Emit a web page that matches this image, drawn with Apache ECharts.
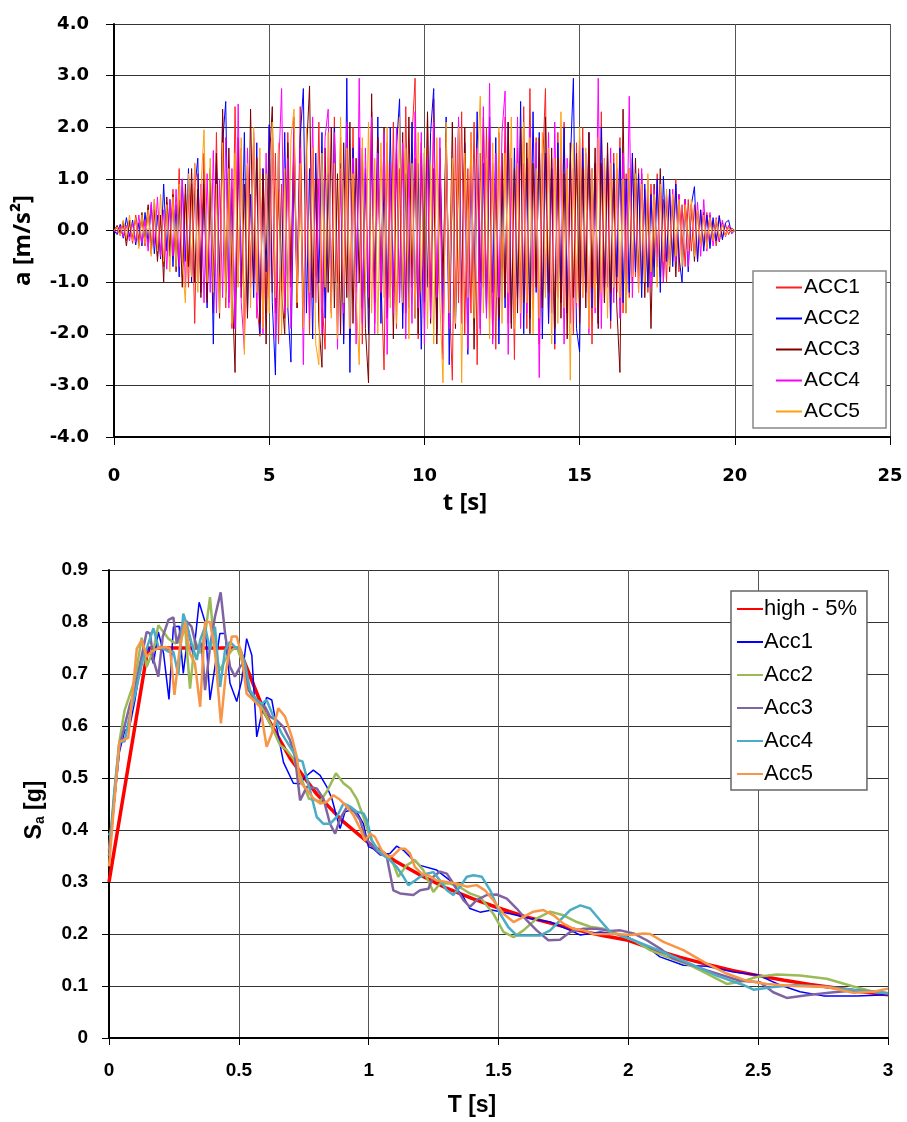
<!DOCTYPE html>
<html>
<head>
<meta charset="utf-8">
<script src="https://cdn.jsdelivr.net/npm/echarts@6/dist/echarts.min.js"></script>
<style>
html,body{margin:0;padding:0;background:#fff;}
#chart{width:907px;height:1122px;}
</style>
</head>
<body>
<div id="chart"></div>
<script>
// ---------- Top chart: accelerograms (sampled every 0.1 s, t = 0 ... 20 s) ----------
const timeStep = 0.1;
const accNames = ['ACC1', 'ACC2', 'ACC3', 'ACC4', 'ACC5'];
const acc1 = [
 0,0.05,-0.1,0.12,-0.2,0.15,-0.25,0.3,-0.18,0.22,
 -0.3,0.45,-0.35,0.6,-0.5,0.3,-0.7,0.55,-0.4,0.8,
 -0.6,1.2,-0.9,0.7,-1.1,0.9,-1.8,1.1,-0.8,1.5,
 -1.3,0.9,-1.6,1.9,-1.2,2.2,-1.5,0.8,-1.9,2.4,
 -1.0,1.6,-2.1,1.3,-0.9,1.8,-1.4,-2.05,1.2,-1.6,
 2.0,-1.2,1.5,-2.2,0.9,-1.7,1.9,-0.8,2.2,-1.5,
 2.4,-1.8,1.2,-2.0,1.6,-0.9,2.1,-1.3,-2.3,1.4,
 -1.6,2.2,-1.0,1.8,-2.1,1.3,-1.7,2.0,-1.2,1.6,
 -2.2,1.1,-1.5,2.3,-1.8,1.4,-0.9,-2.7,1.7,-1.3,
 2.1,-1.9,1.2,-1.6,2.4,-1.0,1.8,2.95,-2.1,1.5,
 -1.7,2.2,-1.3,2.55,-1.9,1.0,-2.4,1.6,-1.2,-2.9,
 1.8,-1.4,2.3,-2.0,1.2,-1.6,2.1,-2.6,1.5,-1.1,
 2.0,-1.7,1.3,-2.3,1.9,-1.2,2.2,-1.8,1.4,-2.5,
 1.6,-1.3,2.4,-1.9,2.75,-1.5,1.8,-2.2,1.1,2.75,
 -1.8,1.4,-2.3,1.9,-1.2,2.1,-1.6,1.3,-2.0,1.7,
 -1.5,2.0,-1.1,1.6,-2.2,1.3,-1.8,2.3,-1.4,1.2,
 -1.9,1.5,-1.2,1.8,-1.6,1.1,-1.3,1.4,-0.9,1.2,
 -1.0,0.8,-1.2,0.9,-0.7,1.1,-0.9,0.6,-1.0,0.8,
 -0.6,1.0,-0.8,0.5,-0.7,0.6,-0.4,0.5,-0.6,0.4,
 -0.3,0.35,-0.25,0.2,-0.3,0.3,-0.15,0.12,-0.08,0.05,
 0
];
const acc2 = [
 0,-0.08,0.12,-0.15,0.25,-0.12,0.2,-0.28,0.15,-0.3,
 0.35,-0.25,0.5,-0.45,0.3,-0.55,0.9,-0.4,0.6,-0.7,
 0.5,-0.9,1.0,-0.6,1.2,-1.0,0.8,1.4,-1.2,0.9,
 -1.5,1.1,-2.2,1.3,-0.9,1.7,2.5,-1.4,0.8,-1.9,
 1.5,-1.1,1.9,-1.6,0.7,-1.3,1.7,-2.0,1.2,-0.8,
 2.05,-1.4,-2.8,1.6,-1.0,1.9,-1.5,-2.55,1.3,-0.9,
 1.8,2.75,-1.6,1.2,-2.1,1.5,-1.0,1.9,-1.7,1.1,
 -1.4,2.0,-1.8,1.3,-2.2,2.95,-2.75,1.6,-1.1,1.8,
 -1.5,1.2,-2.0,1.7,-1.3,2.2,-1.8,1.0,-1.6,2.0,
 -1.2,1.6,2.55,-1.9,1.1,-1.5,2.1,-1.7,1.3,-2.3,
 1.5,-1.1,1.9,2.75,-2.0,1.4,-1.6,2.2,-2.6,1.2,
 -1.8,2.1,-1.3,1.7,-2.4,1.5,-1.1,2.3,-1.9,1.3,
 -1.6,2.2,-1.2,1.8,-2.2,1.0,-1.5,2.1,-1.8,1.6,
 -1.3,2.5,-2.0,1.4,-1.7,2.3,-1.2,1.9,-2.1,1.5,
 -1.8,1.2,-2.2,1.7,-1.4,2.0,-1.6,1.3,2.95,-1.9,
 -2.35,1.6,-1.2,1.9,-1.5,1.3,-1.8,2.0,-1.1,1.5,
 -1.75,1.3,-0.9,1.6,-1.4,1.0,-1.2,1.5,-0.8,1.1,
 -1.3,0.9,-1.1,0.7,-0.9,1.0,-1.2,1.05,-0.6,0.8,
 -0.7,0.9,-0.5,-1.0,0.6,-0.8,0.5,0.85,-0.6,0.4,
 -0.4,0.3,-0.35,0.25,-0.2,0.28,-0.18,0.15,0.2,-0.06,
 0
];
const acc3 = [
 0,0.1,-0.05,0.18,-0.3,0.2,-0.15,0.25,-0.3,0.35,
 -0.2,0.5,-0.45,0.4,-0.6,0.3,-1.0,0.65,-0.5,0.7,
 -0.8,0.6,-1.1,0.9,-0.7,1.2,-1.0,0.8,-1.3,1.0,
 -1.4,1.2,-0.9,1.5,-1.7,2.35,-1.2,1.6,-1.0,-2.75,
 1.8,-1.3,0.9,-1.7,2.35,-1.0,1.4,-1.8,1.1,-2.2,
 1.3,2.4,-1.6,0.8,-1.2,-2.0,1.7,-1.1,1.9,-1.5,
 1.2,-1.9,1.5,2.8,-1.3,1.0,-1.8,-2.65,1.6,-1.2,
 2.0,-1.5,1.1,-2.0,1.7,-1.3,2.1,-1.8,1.4,-1.0,
 1.6,-1.9,-2.95,2.65,-1.4,1.8,-1.2,2.0,-1.7,1.3,
 -2.1,1.5,-1.3,1.9,-1.6,2.2,-1.1,1.4,-2.0,1.7,
 -1.4,2.3,-1.8,1.2,-2.2,1.6,-1.0,1.9,-1.5,2.1,
 -1.9,1.3,-1.6,2.0,-1.2,1.7,-2.3,1.4,-1.0,2.2,
 -1.5,1.8,-2.1,1.1,-1.7,1.5,-1.3,2.1,-1.9,1.2,
 -1.6,2.0,-1.4,1.7,-2.0,1.3,-1.1,1.8,-1.5,2.2,
 -1.2,1.6,-1.9,1.4,-1.7,1.1,-2.1,1.7,-1.3,1.5,
 -1.8,1.2,-1.5,1.9,-1.1,1.6,-1.9,1.3,-1.4,1.7,
 -1.2,1.0,-1.5,-2.75,2.35,-1.6,1.2,-1.0,1.4,-0.9,
 1.1,-1.3,0.8,-1.9,0.9,-0.7,1.2,-1.0,0.7,-0.8,
 0.6,-0.9,0.7,-0.5,0.6,-0.4,0.5,-0.6,0.4,-0.3,
 0.35,-0.25,0.3,-0.2,0.18,-0.22,0.15,-0.1,0.08,-0.04,
 0
];
const acc4 = [
 0,-0.05,0.08,-0.12,0.1,-0.2,0.15,-0.22,0.3,-0.25,
 0.2,-0.4,0.55,-0.3,0.65,-0.5,0.4,-0.75,0.6,-0.5,
 0.8,-0.7,1.0,-1.1,0.7,-0.9,1.3,-1.0,0.9,-1.4,
 1.1,-1.2,1.55,-1.6,1.0,-1.3,1.8,-1.5,1.2,-1.9,
 2.45,-1.4,-2.3,1.6,-1.1,1.9,-1.7,1.2,-2.0,1.5,
 -1.3,1.8,-2.1,1.1,2.75,-1.6,1.4,-1.9,2.0,-1.2,
 1.6,-2.6,1.3,-1.7,2.2,-1.4,1.0,-2.0,1.8,2.35,
 -1.5,1.9,-2.3,1.2,-1.6,2.1,-1.9,1.4,-2.2,2.95,
 -1.8,1.6,-1.3,2.2,-2.0,1.5,-1.2,1.9,-2.4,1.3,
 -1.6,2.0,-1.4,1.7,-2.1,1.3,-1.8,2.3,-1.5,1.9,
 -2.2,1.4,-1.7,2.1,-1.3,1.8,-2.5,1.6,-1.9,1.2,
 -1.5,2.2,-1.8,1.3,-2.3,1.9,-1.4,1.6,-2.0,2.4,
 -1.7,2.85,-2.2,1.5,-1.3,1.9,2.7,-2.4,1.4,-1.6,
 2.2,-1.9,1.3,-1.6,2.0,-1.4,1.7,-2.85,1.5,-1.2,
 1.9,-1.6,2.1,-1.3,1.7,-2.2,1.4,-1.8,1.2,-1.5,
 1.8,-1.3,1.5,-2.0,1.2,-1.6,2.95,-1.9,1.4,-1.1,
 1.6,-1.4,1.2,-1.7,1.5,-1.0,2.6,-1.3,0.9,-1.2,
 1.2,-0.9,1.0,-1.1,0.8,-0.7,0.9,-1.0,0.7,-0.6,
 0.8,-0.6,0.7,-0.5,0.6,-0.7,0.5,-0.4,0.55,-0.5,
 0.6,-0.4,0.35,-0.3,0.25,-0.2,0.2,-0.12,0.1,-0.05,
 0
];
const acc5 = [
 0,0.07,-0.1,0.2,-0.15,0.3,-0.2,0.25,-0.35,0.3,
 -0.25,0.4,-0.5,0.6,-0.4,0.7,-0.6,0.5,-0.8,0.65,
 -0.7,0.9,-0.6,-1.4,1.1,-0.9,1.3,-1.2,0.8,1.95,
 -1.0,1.4,-1.2,0.9,-1.6,1.7,-1.3,1.2,-1.8,1.5,
 -1.1,1.8,-2.4,1.3,-1.5,2.0,-1.2,1.6,-1.9,1.1,
 -1.6,2.1,-1.3,1.7,-2.0,1.2,-1.5,1.8,2.35,-1.4,
 1.3,-1.9,2.0,-1.2,1.6,-2.2,-2.6,1.5,-1.1,1.9,
 -1.7,1.3,-2.1,2.2,-1.4,1.6,-1.9,1.1,-1.3,-2.6,
 1.8,-1.2,2.1,-1.6,1.4,-2.0,1.7,-1.3,2.0,-1.5,
 1.2,-1.8,2.2,-1.4,1.6,-2.1,1.3,-1.7,1.9,-1.2,
 1.6,-1.9,1.3,-2.2,1.8,-1.4,-2.95,2.1,-1.6,1.4,
 -1.8,2.0,-2.95,1.5,-1.3,1.9,-1.7,1.2,2.6,-1.6,
 1.4,-2.1,1.7,-1.3,2.0,-1.8,1.5,-1.2,2.2,-1.9,
 1.3,-1.6,2.1,-1.4,1.8,-2.0,1.2,-1.7,1.9,-1.3,
 1.6,-2.2,1.4,-1.8,2.3,-1.5,1.2,-2.9,1.7,-1.4,
 2.0,-1.3,1.6,-1.9,1.2,-1.5,1.8,-1.2,1.4,-1.7,
 1.3,-1.1,1.5,-1.3,1.0,-1.6,1.2,-0.9,1.1,-1.2,
 0.9,-1.0,1.1,-0.8,0.7,-1.1,0.9,-0.6,0.8,-0.7,
 0.7,-0.5,0.6,-0.7,0.5,-0.4,0.6,-0.5,0.4,-0.3,
 0.3,-0.35,0.25,-0.2,0.22,-0.15,0.12,-0.1,0.06,-0.03,
 0
];
const accColors = ['#ff2020', '#0000ff', '#800000', '#ff00ff', '#ffa010'];
const accTicksY = [-4, -3, -2, -1, 0, 1, 2, 3, 4];

// ---------- Bottom chart: response spectra [T (s), Sa (g)] ----------
const spectrumNames = ['high - 5%', 'Acc1', 'Acc2', 'Acc3', 'Acc4', 'Acc5'];
const targetSpectrum = [
 [0,0.3],[0.15,0.75],[0.5,0.75],[0.6,0.625],[0.7,0.536],[0.8,0.469],[0.9,0.417],[1.0,0.375],
 [1.1,0.341],[1.2,0.313],[1.3,0.288],[1.4,0.268],[1.5,0.25],[1.6,0.234],[1.7,0.221],[1.8,0.208],
 [1.9,0.197],[2.0,0.188],[2.1,0.170],[2.2,0.155],[2.3,0.142],[2.4,0.130],[2.5,0.120],[2.6,0.111],
 [2.7,0.103],[2.8,0.096],[2.9,0.089],[3.0,0.083]
];
const spec1 = [
 [0,0.36],[0.02,0.45],[0.04,0.55],[0.06,0.59],[0.08,0.60],[0.10,0.65],[0.126,0.733],[0.152,0.752],
 [0.171,0.72],[0.19,0.781],[0.21,0.74],[0.231,0.651],[0.248,0.791],[0.27,0.792],[0.286,0.701],
 [0.306,0.784],[0.325,0.733],[0.347,0.838],[0.37,0.80],[0.389,0.65],[0.408,0.714],[0.427,0.778],
 [0.447,0.778],[0.466,0.682],[0.492,0.647],[0.511,0.688],[0.53,0.768],[0.55,0.736],[0.569,0.579],
 [0.588,0.624],[0.607,0.655],[0.627,0.65],[0.645,0.60],[0.672,0.53],[0.71,0.49],[0.736,0.489],
 [0.755,0.502],[0.787,0.515],[0.813,0.505],[0.839,0.483],[0.858,0.461],[0.877,0.425],[0.89,0.403],
 [0.909,0.435],[0.929,0.438],[0.954,0.435],[0.98,0.412],[0.999,0.368],[1.018,0.364],[1.044,0.352],
 [1.082,0.355],[1.108,0.369],[1.134,0.361],[1.166,0.345],[1.198,0.332],[1.262,0.323],[1.313,0.303],
 [1.365,0.271],[1.39,0.249],[1.429,0.242],[1.474,0.246],[1.545,0.239],[1.622,0.230],[1.699,0.223],
 [1.776,0.207],[1.815,0.198],[1.892,0.204],[1.982,0.198],[2.072,0.175],[2.122,0.156],[2.212,0.14],
 [2.302,0.138],[2.405,0.127],[2.5,0.121],[2.584,0.102],[2.661,0.089],[2.751,0.081],[2.88,0.081],[3.0,0.083]
];
const spec2 = [
 [0,0.36],[0.02,0.47],[0.04,0.57],[0.06,0.63],[0.08,0.66],[0.10,0.69],[0.126,0.77],[0.145,0.714],
 [0.171,0.746],[0.19,0.794],[0.209,0.781],[0.229,0.768],[0.254,0.759],[0.273,0.762],[0.293,0.79],
 [0.312,0.672],[0.331,0.765],[0.351,0.74],[0.374,0.79],[0.389,0.848],[0.408,0.74],[0.428,0.707],
 [0.447,0.727],[0.473,0.746],[0.492,0.752],[0.511,0.727],[0.53,0.682],[0.556,0.65],[0.582,0.643],
 [0.607,0.618],[0.633,0.592],[0.659,0.563],[0.684,0.554],[0.71,0.537],[0.74,0.50],[0.77,0.46],
 [0.813,0.455],[0.84,0.475],[0.874,0.509],[0.903,0.49],[0.929,0.48],[0.954,0.46],[0.98,0.425],
 [1.005,0.387],[1.031,0.361],[1.07,0.351],[1.095,0.335],[1.114,0.31],[1.146,0.332],[1.178,0.342],
 [1.21,0.323],[1.249,0.281],[1.275,0.297],[1.313,0.297],[1.352,0.29],[1.39,0.278],[1.429,0.271],
 [1.48,0.239],[1.519,0.204],[1.558,0.194],[1.596,0.207],[1.648,0.23],[1.699,0.243],[1.75,0.236],
 [1.802,0.223],[1.853,0.214],[1.905,0.21],[1.969,0.198],[2.02,0.188],[2.084,0.169],[2.148,0.156],
 [2.237,0.14],[2.302,0.124],[2.379,0.104],[2.43,0.108],[2.5,0.118],[2.571,0.122],[2.661,0.12],
 [2.764,0.114],[2.867,0.099],[2.944,0.089],[3.0,0.086]
];
const spec3 = [
 [0,0.35],[0.02,0.46],[0.04,0.56],[0.06,0.60],[0.08,0.64],[0.10,0.67],[0.12,0.72],[0.145,0.781],
 [0.158,0.778],[0.171,0.727],[0.19,0.695],[0.207,0.772],[0.229,0.804],[0.248,0.809],[0.261,0.759],
 [0.28,0.791],[0.299,0.801],[0.318,0.791],[0.338,0.749],[0.357,0.759],[0.37,0.669],[0.389,0.752],
 [0.408,0.81],[0.43,0.857],[0.447,0.778],[0.466,0.714],[0.485,0.695],[0.505,0.714],[0.517,0.72],
 [0.537,0.669],[0.556,0.656],[0.575,0.647],[0.601,0.637],[0.62,0.618],[0.646,0.611],[0.672,0.598],
 [0.697,0.573],[0.716,0.541],[0.736,0.457],[0.762,0.483],[0.8,0.48],[0.826,0.46],[0.851,0.412],
 [0.871,0.393],[0.89,0.422],[0.916,0.444],[0.941,0.438],[0.967,0.419],[0.986,0.387],[1.005,0.374],
 [1.044,0.355],[1.07,0.348],[1.095,0.284],[1.121,0.278],[1.172,0.275],[1.198,0.284],[1.23,0.287],
 [1.249,0.31],[1.275,0.32],[1.301,0.316],[1.326,0.297],[1.365,0.265],[1.39,0.252],[1.416,0.265],
 [1.455,0.275],[1.493,0.276],[1.532,0.268],[1.57,0.249],[1.609,0.226],[1.647,0.207],[1.692,0.188],
 [1.737,0.189],[1.776,0.204],[1.827,0.21],[1.879,0.21],[1.93,0.206],[1.969,0.207],[2.02,0.201],
 [2.071,0.188],[2.122,0.172],[2.173,0.153],[2.302,0.13],[2.43,0.11],[2.507,0.107],[2.558,0.088],
 [2.61,0.077],[2.686,0.082],[2.79,0.088],[2.88,0.092],[3.0,0.086]
];
const spec4 = [
 [0,0.39],[0.01,0.40],[0.02,0.47],[0.04,0.57],[0.06,0.57],[0.08,0.62],[0.10,0.66],[0.13,0.727],
 [0.145,0.749],[0.171,0.788],[0.19,0.752],[0.209,0.749],[0.229,0.743],[0.248,0.743],[0.267,0.698],
 [0.286,0.816],[0.302,0.791],[0.318,0.759],[0.338,0.727],[0.351,0.765],[0.37,0.791],[0.389,0.746],
 [0.408,0.791],[0.428,0.675],[0.447,0.746],[0.466,0.762],[0.485,0.752],[0.505,0.749],[0.524,0.72],
 [0.543,0.669],[0.569,0.65],[0.588,0.643],[0.607,0.65],[0.633,0.618],[0.665,0.586],[0.697,0.56],
 [0.729,0.534],[0.745,0.532],[0.774,0.477],[0.8,0.425],[0.826,0.412],[0.851,0.412],[0.877,0.425],
 [0.903,0.451],[0.929,0.445],[0.954,0.435],[0.98,0.432],[0.993,0.419],[1.012,0.38],[1.037,0.361],
 [1.057,0.352],[1.082,0.342],[1.108,0.329],[1.134,0.31],[1.153,0.294],[1.179,0.303],[1.198,0.31],
 [1.224,0.316],[1.249,0.319],[1.275,0.303],[1.301,0.284],[1.326,0.275],[1.352,0.291],[1.378,0.31],
 [1.404,0.313],[1.436,0.31],[1.468,0.284],[1.506,0.239],[1.538,0.213],[1.571,0.197],[1.609,0.197],
 [1.66,0.197],[1.699,0.207],[1.737,0.226],[1.776,0.246],[1.815,0.255],[1.853,0.249],[1.892,0.226],
 [1.93,0.204],[1.969,0.197],[2.02,0.188],[2.084,0.175],[2.148,0.162],[2.237,0.143],[2.34,0.12],
 [2.443,0.102],[2.482,0.093],[2.558,0.098],[2.648,0.102],[2.764,0.098],[2.88,0.092],[3.0,0.086]
];
const spec5 = [
 [0,0.33],[0.02,0.45],[0.04,0.57],[0.055,0.573],[0.074,0.577],[0.09,0.66],[0.107,0.749],[0.126,0.765],
 [0.145,0.733],[0.164,0.743],[0.19,0.75],[0.216,0.752],[0.235,0.749],[0.252,0.66],[0.273,0.752],
 [0.293,0.80],[0.312,0.739],[0.331,0.72],[0.351,0.637],[0.37,0.80],[0.389,0.80],[0.408,0.746],
 [0.431,0.605],[0.451,0.707],[0.473,0.772],[0.492,0.772],[0.511,0.736],[0.53,0.662],[0.556,0.65],
 [0.582,0.637],[0.607,0.56],[0.627,0.585],[0.652,0.634],[0.678,0.618],[0.704,0.579],[0.723,0.541],
 [0.736,0.493],[0.762,0.477],[0.787,0.461],[0.813,0.451],[0.839,0.454],[0.864,0.467],[0.89,0.458],
 [0.916,0.445],[0.941,0.429],[0.967,0.403],[0.986,0.38],[1.005,0.393],[1.024,0.387],[1.05,0.361],
 [1.076,0.348],[1.095,0.351],[1.121,0.364],[1.14,0.364],[1.159,0.355],[1.178,0.329],[1.204,0.316],
 [1.23,0.313],[1.262,0.303],[1.301,0.3],[1.339,0.297],[1.378,0.291],[1.416,0.294],[1.448,0.284],
 [1.48,0.265],[1.519,0.239],[1.558,0.223],[1.596,0.233],[1.634,0.243],[1.673,0.246],[1.712,0.236],
 [1.75,0.22],[1.789,0.21],[1.827,0.207],[1.866,0.2],[1.905,0.2],[1.956,0.2],[2.007,0.198],
 [2.058,0.201],[2.084,0.2],[2.135,0.185],[2.212,0.169],[2.302,0.143],[2.379,0.124],[2.456,0.11],
 [2.533,0.104],[2.636,0.1],[2.764,0.098],[2.867,0.087],[2.944,0.089],[3.0,0.095]
];
const spectrumColors = ['#ff0000', '#0000ff', '#9bbb59', '#8064a2', '#4bacc6', '#f79646'];
const spectrumWidths = [3.5, 1.5, 2.5, 2.5, 2.5, 2.5];

// ---------- build ----------
const accData = [acc1, acc2, acc3, acc4, acc5];
const specData = [targetSpectrum, spec1, spec2, spec3, spec4, spec5];
function toTimePairs(values) {
  return values.map((v, i) => [Math.round(i * timeStep * 100) / 100, v]);
}

const topLabel = { fontFamily: 'DejaVu Sans', fontWeight: 'bold', fontSize: 18, color: '#000' };
const botLabel = { fontFamily: 'Liberation Sans', fontWeight: 'bold', fontSize: 19, color: '#000' };

const series = [];
accData.forEach((vals, k) => {
  series.push({
    name: accNames[k], type: 'line', xAxisIndex: 0, yAxisIndex: 0,
    data: toTimePairs(vals), symbol: 'none', showSymbol: false,
    lineStyle: { color: accColors[k], width: 1 }, itemStyle: { color: accColors[k] },
    animation: false
  });
});
specData.forEach((vals, k) => {
  series.push({
    name: spectrumNames[k], type: 'line', xAxisIndex: 1, yAxisIndex: 1,
    data: vals, symbol: 'none', showSymbol: false,
    lineStyle: { color: spectrumColors[k], width: spectrumWidths[k] }, itemStyle: { color: spectrumColors[k] },
    z: k === 0 ? 2 : 3,
    animation: false
  });
});

const chart = echarts.init(document.getElementById('chart'), null, { renderer: 'canvas' });
chart.setOption({
  backgroundColor: '#fff',
  animation: false,
  grid: [
    { left: 114, top: 24, width: 776, height: 413 },
    { left: 109, top: 570, width: 779, height: 468 }
  ],
  xAxis: [
    {
      gridIndex: 0, type: 'value', min: 0, max: 25, interval: 5,
      name: 't [s]', nameLocation: 'middle', nameGap: 54,
      nameTextStyle: { fontFamily: 'Open Sans', fontWeight: 'bold', fontSize: 24, color: '#000', padding: [0, 74, 0, 0] },
      axisLine: { onZero: false, lineStyle: { color: '#000', width: 2 } },
      axisTick: { show: true, length: 8, lineStyle: { color: '#000', width: 1 } },
      axisLabel: Object.assign({ margin: 30 }, topLabel),
      splitLine: { show: true, lineStyle: { color: '#555', width: 1 } }
    },
    {
      gridIndex: 1, type: 'value', min: 0, max: 3, interval: 0.5,
      name: 'T [s]', nameLocation: 'middle', nameGap: 56,
      nameTextStyle: { fontFamily: 'Liberation Sans', fontWeight: 'bold', fontSize: 23, color: '#000', padding: [0, 53, 0, 0] },
      axisLine: { onZero: false, lineStyle: { color: '#000', width: 2 } },
      axisTick: { show: true, length: 7, lineStyle: { color: '#000', width: 1 } },
      axisLabel: Object.assign({ margin: 23, formatter: v => String(+v.toFixed(1)) }, botLabel),
      splitLine: { show: true, lineStyle: { color: '#555', width: 1 } }
    }
  ],
  yAxis: [
    {
      gridIndex: 0, type: 'value', min: accTicksY[0], max: accTicksY[accTicksY.length - 1], interval: 1,
      name: 'a [m/s²]', nameLocation: 'middle', nameGap: 79, nameRotate: 90,
      nameTextStyle: { fontFamily: 'Open Sans', fontWeight: 'bold', fontSize: 24, color: '#000', padding: [0, 20, 0, 0] },
      axisLine: { show: true, onZero: false, lineStyle: { color: '#000', width: 2 } },
      axisTick: { show: true, length: 8, lineStyle: { color: '#000', width: 1 } },
      axisLabel: Object.assign({ margin: 25, formatter: v => v.toFixed(1) }, topLabel),
      splitLine: { show: true, lineStyle: { color: '#333', width: 1 } }
    },
    {
      gridIndex: 1, type: 'value', min: 0, max: 0.9, interval: 0.1,
      name: '{m|S}{s|a}{m| [g]}', nameLocation: 'middle', nameGap: 62, nameRotate: 90,
      nameTextStyle: {
        padding: [0, 12, 0, 0],
        rich: {
          m: { fontFamily: 'Liberation Sans', fontWeight: 'bold', fontSize: 23, color: '#000', lineHeight: 24, verticalAlign: 'middle' },
          s: { fontFamily: 'Liberation Sans', fontWeight: 'bold', fontSize: 14, color: '#000', lineHeight: 6, verticalAlign: 'bottom' }
        }
      },
      axisLine: { show: true, onZero: false, lineStyle: { color: '#000', width: 2 } },
      axisTick: { show: true, length: 7, lineStyle: { color: '#000', width: 1 } },
      axisLabel: Object.assign({ margin: 21, formatter: v => String(+v.toFixed(1)) }, botLabel),
      splitLine: { show: true, lineStyle: { color: '#333', width: 1 } }
    }
  ],
  legend: [
    {
      data: accNames, orient: 'vertical', left: 753, top: 271,
      padding: [6, 26, 6, 22], itemGap: 10, itemWidth: 26, itemHeight: 12,
      backgroundColor: '#fff', borderColor: '#888', borderWidth: 1.5,
      itemStyle: { opacity: 0 },
      textStyle: { fontFamily: 'Liberation Sans', fontSize: 21, color: '#000', lineHeight: 21, padding: [0, 0, 0, -3] },
      selectedMode: false
    },
    {
      data: spectrumNames, orient: 'vertical', left: 731, top: 591,
      padding: [7, 10, 5, 5], itemGap: 11, itemWidth: 26, itemHeight: 12,
      backgroundColor: '#fff', borderColor: '#666', borderWidth: 1.5,
      itemStyle: { opacity: 0 },
      textStyle: { fontFamily: 'Liberation Sans', fontSize: 22, color: '#000', lineHeight: 22, padding: [0, 0, 0, -4] },
      selectedMode: false
    }
  ],
  series: series
});
</script>
</body>
</html>
